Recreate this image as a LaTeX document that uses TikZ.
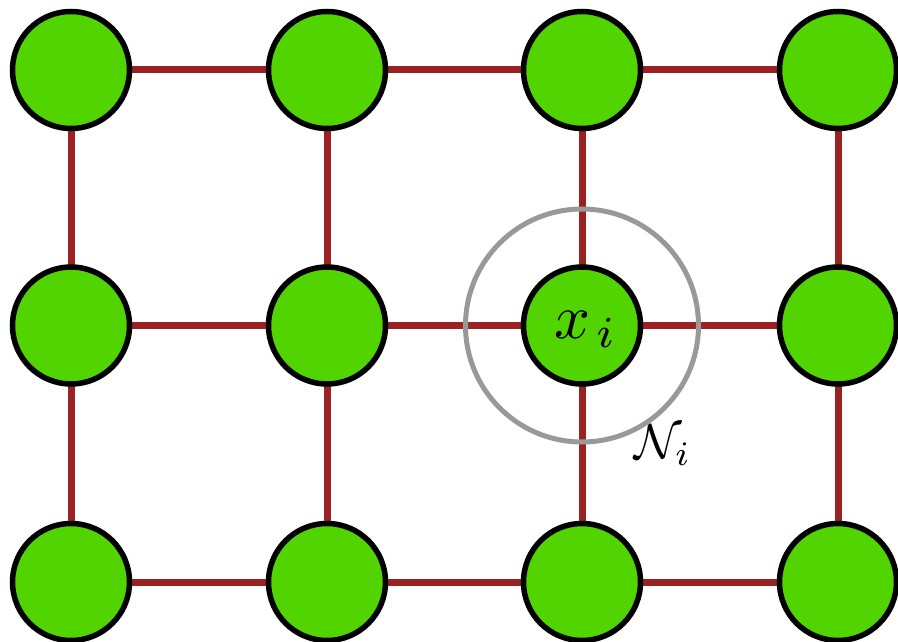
\documentclass[tikz,border=0pt]{standalone}
\definecolor{nodegreen}{RGB}{82,212,0}
\definecolor{edgered}{RGB}{155,34,34}
\definecolor{ringgray}{RGB}{153,153,153}
\tikzset{
  gnode/.style={circle, draw=black, line width=5.5pt, fill=nodegreen, minimum size=117pt, inner sep=0pt},
  gedge/.style={draw=edgered, line width=7pt},
  ring/.style={draw=ringgray, line width=5pt}
}
\begin{document}
\begin{tikzpicture}[x=1pt,y=-1pt]
\useasboundingbox (0,0) rectangle (898,642);
\foreach \c/\xx in {0/71,1/327,2/582,3/838}{
  \foreach \r/\yy in {0/70,1/325.5,2/582}{
    \coordinate (p\c\r) at (\xx,\yy);
  }
}
% edges
\foreach \r in {0,1,2}{
  \draw[gedge] (p0\r) -- (p1\r) -- (p2\r) -- (p3\r);
}
\foreach \c in {0,1,2,3}{
  \draw[gedge] (p\c0) -- (p\c1) -- (p\c2);
}
% ring
\draw[ring] (p21) circle[radius=116.5];
% nodes
\foreach \c in {0,1,2,3}{
  \foreach \r in {0,1,2}{
    \node[gnode] (n\c\r) at (p\c\r) {};
  }
}
\node[scale=6.3, inner sep=0pt, anchor=base west] (xi) at (553,338) {$x_{\mkern2mu i}$};
\node[scale=4.9, inner sep=0pt, anchor=base west] (Ni) at (634,458) {$\mathcal{N}_i$};
\end{tikzpicture}
\end{document}
